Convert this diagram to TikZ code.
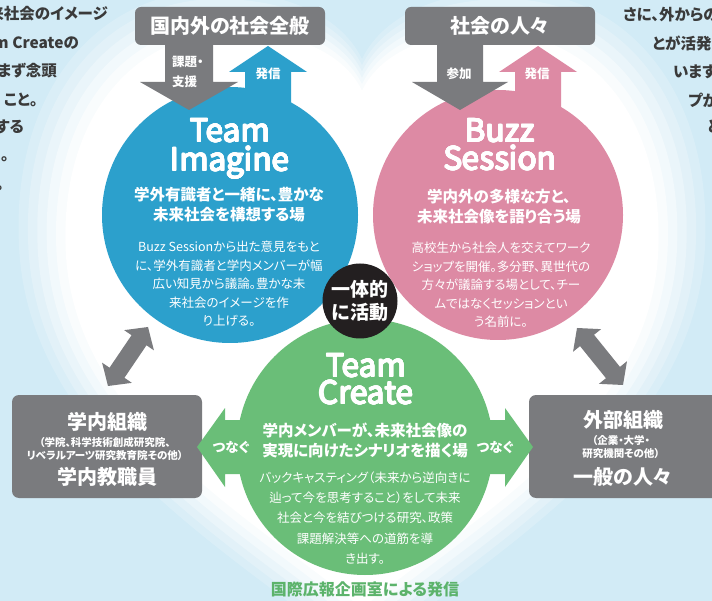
\documentclass[tikz,border=0pt]{standalone}
\usepackage{fontspec}
\setmainfont{Noto Sans CJK JP}[RawFeature={+palt}]
\usepackage[copies]{contour}
\contourlength{0.55pt}
\contournumber{12}
\usetikzlibrary{calc}
\definecolor{bgblue}{HTML}{D2EBF6}
\definecolor{cblue}{HTML}{2CA0CC}
\definecolor{cpink}{HTML}{DD8AA4}
\definecolor{cgreen}{HTML}{6ABE78}
\definecolor{cgray}{HTML}{7A7B7E}
\definecolor{cblack}{HTML}{231F20}
\definecolor{ctext}{HTML}{3A3A3A}
\definecolor{tgreen}{HTML}{5CB36B}
\newcommand{\fsz}[2]{\fontsize{#1}{#2}\selectfont}
\newcommand{\ttltext}[1]{\contour{white}{#1}}
\begin{document}
\begin{tikzpicture}[x=1pt,y=-1pt,
  topbox/.style={fill=cgray,rounded corners=6pt,minimum width=190,minimum height=38,inner sep=0,text=white,font=\fsz{20}{22}\bfseries},
  orgbox/.style={fill=cgray,rounded corners=7pt,minimum width=190,minimum height=103,inner sep=0},
  bigcirc/.style={circle,inner sep=0,minimum size=256},
  ttl/.style={anchor=base,inner sep=0,text height=21pt,text depth=0pt,text=white,font=\fsz{31.5}{31.5}},
  subt/.style={align=center,inner sep=0,text=white,font=\fsz{15.5}{20}\bfseries},
  bodyt/.style={align=center,inner sep=0,text=white,font=\fsz{12.5}{18.6}},
  arrt/.style={inner sep=0,text=white,font=\fsz{12.5}{20}\bfseries},
  orgt/.style={inner sep=0,text=white,font=\fsz{20}{22}\bfseries},
  orgs/.style={align=center,inner sep=0,text=white,font=\fsz{10.5}{13}\bfseries},
  sidet/.style={inner sep=0,text=ctext,font=\fsz{15.5}{16}\bfseries},
  conn/.style={inner sep=0,text=white,font=\fsz{13.5}{14}\bfseries}]
\useasboundingbox (0,0) rectangle (712,601);
\clip (0,0) rectangle (712,601);
\fill[bgblue] (0,0) rectangle (712,601);
% heart shaped glow
\foreach \s/\o in {1.10/0.18,1.07/0.22,1.04/0.3,1.01/0.4,0.98/0.55,0.95/1}{
  \begin{scope}[shift={(362,290)},scale=\s,shift={(-362,-290)}]
  \fill[white,fill opacity=\o] (362,625) .. controls (240,525) and (55,425) .. (50,245)
    .. controls (45,110) and (120,20) .. (225,18) .. controls (300,18) and (345,45) .. (362,80)
    .. controls (379,45) and (424,18) .. (499,18) .. controls (604,20) and (679,110) .. (674,245)
    .. controls (669,425) and (484,525) .. (362,625) -- cycle;
  \end{scope}}
% side texts (clipped columns)
\node[sidet,anchor=east] (l1) at (108,14) {未来社会のイメージ};
\node[sidet,anchor=east] (l2) at (79,43) {Team Createの};
\node[sidet,anchor=east] (l3) at (57,71) {をまず念頭};
\node[sidet,anchor=east] (l4) at (38,100) {こと。};
\node[sidet,anchor=east] (l5) at (24,127) {する};
\node[sidet,anchor=east] (l6) at (9,155) {た。};
\node[sidet,anchor=east] (l7) at (4,184) {る。};
\node[sidet,anchor=west] (r1) at (623,15) {さに、外からの};
\node[sidet,anchor=west] (r2) at (652,43) {とが活発};
\node[sidet,anchor=west] (r3) at (673,72) {います};
\node[sidet,anchor=west] (r4) at (688,100) {プが};
\node[sidet,anchor=west] (r5) at (707,127) {と};
% top boxes
\node[topbox] (soc) at (230,26) {国内外の社会全般};
\node[topbox] (ppl) at (500,26) {社会の人々};
% up arrows (same colour as circles)
\fill[cblue] (245,130) -- (245,72) -- (229,72) -- (268,46) -- (307,72) -- (291,72) -- (291,130) -- cycle;
\fill[cpink] (515,130) -- (515,72) -- (499,72) -- (538,46) -- (577,72) -- (561,72) -- (561,130) -- cycle;
% circles
\node[bigcirc,fill=cblue] (imag) at (230,215) {};
\node[bigcirc,fill=cpink,minimum size=250] (buzz) at (498,215) {};
% gray down arrows
\fill[cgray] (165,40) -- (213,40) -- (213,82) -- (238,82) -- (189,110) -- (140,82) -- (165,82) -- cycle;
\fill[cgray] (437,40) -- (483,40) -- (483,82) -- (508,82) -- (460,110) -- (412,82) -- (437,82) -- cycle;
\node[arrt,align=left,anchor=west] (kd) at (172,72) {課題・\\支援};
\node[arrt] (h1) at (268,74) {発信};
\node[arrt] (sk) at (459,74) {参加};
\node[arrt] (h2) at (537,74) {発信};
% gray org boxes
\node[orgbox] (inorg) at (107,446.5) {};
\node[orgbox] (exorg) at (624,446.5) {};
% green circle and connectors
\node[bigcirc,fill=cgreen] (crea) at (365,447) {};
\fill[cgreen] (262,420) -- (225,420) -- (225,408) -- (197,447) -- (225,487) -- (225,474) -- (262,474) -- cycle;
\fill[cgreen] (468,420) -- (505,420) -- (505,408) -- (533,447) -- (505,487) -- (505,474) -- (468,474) -- cycle;
% black circle
\node[circle,fill=cblack,minimum size=75,inner sep=0,align=center,text=white,font=\fsz{19}{23}\bfseries] (one) at (360,301) {一体的\\に活動};
% diagonal double arrows
\coordinate (a1) at (108,386); \coordinate (a2) at (148,327);
\coordinate (b1) at (623,385); \coordinate (b2) at (577,328);
\foreach \p/\q in {a1/a2,b1/b2}{
  \coordinate (h1) at ($(\p)!16pt!(\q)$);
  \coordinate (h2) at ($(\q)!16pt!(\p)$);
  \fill[cgray] (\p) -- ($(h1)!18pt!90:(\q)$) -- ($(h1)!9pt!90:(\q)$) -- ($(h2)!9pt!-90:(\p)$) -- ($(h2)!18pt!-90:(\p)$) -- (\q)
    -- ($(h2)!18pt!90:(\p)$) -- ($(h2)!9pt!90:(\p)$) -- ($(h1)!9pt!-90:(\q)$) -- ($(h1)!18pt!-90:(\q)$) -- cycle;
}
% circle texts
\node[ttl] (t1a) at (230,142) {\ttltext{Team}};
\node[ttl] (t1b) at (230,171) {\ttltext{Imagine}};
\node[subt] (s1) at (229,205) {学外有識者と一緒に、豊かな\\未来社会を構想する場};
\node[bodyt] (b1t) at (229,284) {Buzz Sessionから出た意見をもと\\に、学外有識者と学内メンバーが幅\\広い知見から議論。豊かな未\\来社会のイメージを作\\り上げる。};
\node[ttl] (t2a) at (500,142) {\ttltext{Buzz}};
\node[ttl] (t2b) at (500,170) {\ttltext{Session}};
\node[subt] (s2) at (499,207) {学内外の多様な方と、\\未来社会像を語り合う場};
\node[bodyt] (b2t) at (501,285) {高校生から社会人を交えてワーク\\ショップを開催。多分野、異世代の\\方々が議論する場として、チー\\ムではなくセッションとい\\う名前に。};
\node[ttl] (t3a) at (366,377) {\ttltext{Team}};
\node[ttl] (t3b) at (366,404) {\ttltext{Create}};
\node[subt] (s3) at (365,440) {学内メンバーが、未来社会像の\\実現に向けたシナリオを描く場};
\node[bodyt,font=\fsz{12.5}{20.2}] (b3t) at (365,518) {バックキャスティング（未来から逆向きに\\辿って今を思考すること）をして未来\\社会と今を結びつける研究、政策\\課題解決等への道筋を導\\き出す。};
\node[conn] (c1) at (231,447) {つなぐ};
\node[conn] (c2) at (495,447) {つなぐ};
% org texts
\node[orgt] (o1) at (107,422) {学内組織};
\node[orgs] (o1s) at (105,448.5) {（学院、科学技術創成研究院、\\リベラルアーツ研究教育院その他）};
\node[orgt] (o1b) at (107,477) {学内教職員};
\node[orgt] (o2) at (623,420) {外部組織};
\node[orgs] (o2s) at (621,447.5) {（企業・大学・\\研究機関その他）};
\node[orgt] (o2b) at (623,477) {一般の人々};
% bottom
\node[inner sep=0,text=tgreen,font=\fsz{16}{16}\bfseries] (foot) at (365,589) {国際広報企画室による発信};
\end{tikzpicture}
\end{document}
